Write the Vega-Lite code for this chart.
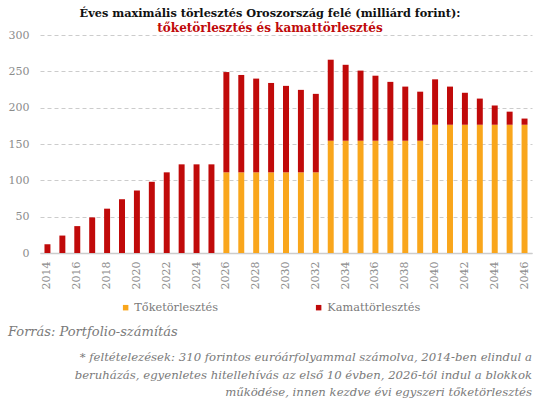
{
  "$schema": "https://vega.github.io/schema/vega-lite/v6.json",
  "background": "white",
  "padding": {"left": 8, "right": 4, "top": 7, "bottom": 0},
  "config": {
    "view": {"stroke": null},
    "font": "DejaVu Serif",
    "concat": {"spacing": 0}
  },
  "title": {
    "text": "Éves maximális törlesztés Oroszország felé (milliárd forint):",
    "subtitle": "tőketörlesztés és kamattörlesztés",
    "anchor": "middle",
    "font": "DejaVu Serif",
    "fontSize": 11.3,
    "fontWeight": "bold",
    "color": "#111111",
    "subtitleFont": "DejaVu Serif",
    "subtitleFontSize": 12,
    "subtitleFontWeight": "bold",
    "subtitleColor": "#C00A0A",
    "subtitlePadding": 4,
    "offset": -5
  },
  "resolve": {"legend": {"color": "independent"}},
  "vconcat": [
    {
      "title": {
        "text": [
          "* feltételezések: 310 forintos euróárfolyammal számolva, 2014-ben elindul a",
          "beruházás, egyenletes hitellehívás az első 10 évben, 2026-tól indul a blokkok",
          "működése, innen kezdve évi egyszeri tőketörlesztés"
        ],
        "orient": "bottom",
        "anchor": "end",
        "align": "right",
        "font": "DejaVu Serif",
        "fontStyle": "italic",
        "fontWeight": "normal",
        "fontSize": 11.7,
        "lineHeight": 17.5,
        "color": "#7a7a7a",
        "offset": 13
      },
      "resolve": {"legend": {"color": "independent"}},
      "vconcat": [
        {
          "title": {
            "text": "Forrás: Portfolio-számítás",
            "orient": "bottom",
            "anchor": "start",
            "font": "DejaVu Serif",
            "fontStyle": "italic",
            "fontWeight": "normal",
            "fontSize": 13,
            "color": "#7a7a7a",
            "offset": 13
          },
          "width": 492,
          "height": 218,
          "data": {
            "values": [
              {"year": 2014, "type": "Kamattörlesztés", "value": 12},
              {"year": 2015, "type": "Kamattörlesztés", "value": 24},
              {"year": 2016, "type": "Kamattörlesztés", "value": 37},
              {"year": 2017, "type": "Kamattörlesztés", "value": 49},
              {"year": 2018, "type": "Kamattörlesztés", "value": 61},
              {"year": 2019, "type": "Kamattörlesztés", "value": 74},
              {"year": 2020, "type": "Kamattörlesztés", "value": 86},
              {"year": 2021, "type": "Kamattörlesztés", "value": 98},
              {"year": 2022, "type": "Kamattörlesztés", "value": 111},
              {"year": 2023, "type": "Kamattörlesztés", "value": 122},
              {"year": 2024, "type": "Kamattörlesztés", "value": 122},
              {"year": 2025, "type": "Kamattörlesztés", "value": 122},
              {"year": 2026, "type": "Tőketörlesztés", "value": 111},
              {"year": 2026, "type": "Kamattörlesztés", "value": 138},
              {"year": 2027, "type": "Tőketörlesztés", "value": 111},
              {"year": 2027, "type": "Kamattörlesztés", "value": 134},
              {"year": 2028, "type": "Tőketörlesztés", "value": 111},
              {"year": 2028, "type": "Kamattörlesztés", "value": 129},
              {"year": 2029, "type": "Tőketörlesztés", "value": 111},
              {"year": 2029, "type": "Kamattörlesztés", "value": 123},
              {"year": 2030, "type": "Tőketörlesztés", "value": 111},
              {"year": 2030, "type": "Kamattörlesztés", "value": 119},
              {"year": 2031, "type": "Tőketörlesztés", "value": 111},
              {"year": 2031, "type": "Kamattörlesztés", "value": 113.5},
              {"year": 2032, "type": "Tőketörlesztés", "value": 111},
              {"year": 2032, "type": "Kamattörlesztés", "value": 108},
              {"year": 2033, "type": "Tőketörlesztés", "value": 154.5},
              {"year": 2033, "type": "Kamattörlesztés", "value": 111.5},
              {"year": 2034, "type": "Tőketörlesztés", "value": 154.5},
              {"year": 2034, "type": "Kamattörlesztés", "value": 104.5},
              {"year": 2035, "type": "Tőketörlesztés", "value": 154.5},
              {"year": 2035, "type": "Kamattörlesztés", "value": 96.5},
              {"year": 2036, "type": "Tőketörlesztés", "value": 154.5},
              {"year": 2036, "type": "Kamattörlesztés", "value": 89.5},
              {"year": 2037, "type": "Tőketörlesztés", "value": 154.5},
              {"year": 2037, "type": "Kamattörlesztés", "value": 81},
              {"year": 2038, "type": "Tőketörlesztés", "value": 154.5},
              {"year": 2038, "type": "Kamattörlesztés", "value": 74.5},
              {"year": 2039, "type": "Tőketörlesztés", "value": 154.5},
              {"year": 2039, "type": "Kamattörlesztés", "value": 67.5},
              {"year": 2040, "type": "Tőketörlesztés", "value": 176.5},
              {"year": 2040, "type": "Kamattörlesztés", "value": 62.5},
              {"year": 2041, "type": "Tőketörlesztés", "value": 176.5},
              {"year": 2041, "type": "Kamattörlesztés", "value": 52.5},
              {"year": 2042, "type": "Tőketörlesztés", "value": 176.5},
              {"year": 2042, "type": "Kamattörlesztés", "value": 44},
              {"year": 2043, "type": "Tőketörlesztés", "value": 176.5},
              {"year": 2043, "type": "Kamattörlesztés", "value": 36},
              {"year": 2044, "type": "Tőketörlesztés", "value": 176.5},
              {"year": 2044, "type": "Kamattörlesztés", "value": 26.5},
              {"year": 2045, "type": "Tőketörlesztés", "value": 176.5},
              {"year": 2045, "type": "Kamattörlesztés", "value": 18},
              {"year": 2046, "type": "Tőketörlesztés", "value": 176.5},
              {"year": 2046, "type": "Kamattörlesztés", "value": 8.5}
            ]
          },
          "mark": {"type": "bar"},
          "encoding": {
            "x": {
              "field": "year",
              "type": "ordinal",
              "scale": {"paddingInner": 0.6, "paddingOuter": 0.3},
              "axis": {
                "title": null,
                "values": [2014, 2016, 2018, 2020, 2022, 2024, 2026, 2028, 2030, 2032, 2034, 2036, 2038, 2040, 2042, 2044, 2046],
                "labelAngle": -90,
                "labelFont": "DejaVu Serif",
                "labelFontSize": 11,
                "labelColor": "#8c8c8c",
                "labelPadding": 8,
                "ticks": false,
                "domainColor": "#cccccc",
                "domainWidth": 1.5
              }
            },
            "y": {
              "field": "value",
              "type": "quantitative",
              "aggregate": "sum",
              "stack": "zero",
              "scale": {"domain": [0, 300]},
              "axis": {
                "title": null,
                "values": [0, 50, 100, 150, 200, 250, 300],
                "labelFont": "DejaVu Serif",
                "labelFontSize": 11,
                "labelColor": "#8c8c8c",
                "labelPadding": 11,
                "ticks": false,
                "domain": false,
                "gridColor": "#cccccc",
                "gridDash": [4, 3],
                "gridWidth": 1
              }
            },
            "color": {
              "field": "type",
              "type": "nominal",
              "scale": {
                "domain": ["Tőketörlesztés", "Kamattörlesztés"],
                "range": ["#F9A61C", "#C00A0A"]
              },
              "legend": {
                "title": null,
                "orient": "none",
                "legendX": 80,
                "legendY": 267,
                "direction": "horizontal",
                "symbolType": "square",
                "symbolSize": 30,
                "symbolStrokeWidth": 0,
                "labelFont": "DejaVu Serif",
                "labelFontSize": 11.3,
                "labelColor": "#7a7a7a",
                "labelOffset": 3,
                "columnPadding": 95
              }
            },
            "order": {"field": "type", "sort": "descending"}
          }
        }
      ]
    }
  ]
}
